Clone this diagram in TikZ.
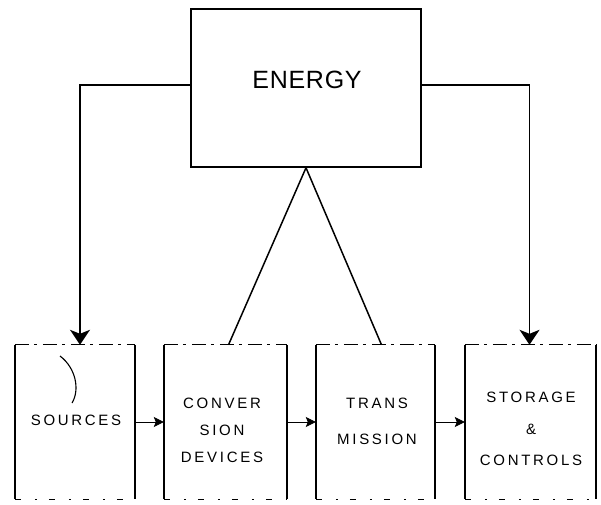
\documentclass[tikz,border=0pt]{standalone}
\usepackage{fontspec}
\setmainfont{Liberation Sans}
\newfontfamily\lblfont[LetterSpace=18]{Liberation Sans}
\newfontfamily\titlefont[LetterSpace=3]{Liberation Sans}
\usetikzlibrary{arrows.meta}
\begin{document}
\begin{tikzpicture}[x=1pt,y=-1pt,
  box/.style={draw=none, minimum height=154pt, inner sep=0pt},
  bigbox/.style={draw, line width=1.5pt, minimum width=230pt, minimum height=158pt, inner sep=0pt},
  side/.style={line width=1.5pt},
  topedge/.style={line width=1pt, dash pattern=on 14pt off 5pt on 3pt off 6pt},
  botedge/.style={line width=0.9pt, dash pattern=on 6pt off 14pt on 2pt off 12pt},
  lbl/.style={align=center, inner sep=0pt},
  conn/.style={line width=1.5pt},
  bigarrow/.style={conn, -{Stealth[length=15pt,width=20pt,inset=4pt]}},
  smallarrow/.style={line width=0.8pt, -{Stealth[length=10pt,width=10pt,inset=2pt]}}]
\useasboundingbox (0,0) rectangle (601,504);

% main box
\node[bigbox] (energy) at (306,88) {};
\node[lbl, font=\titlefont\fontsize{25}{30}\selectfont] (energylbl) at (307,80) {ENERGY};

% lower boxes
\node[box, minimum width=120pt] (b1) at (75,422) {};
\node[box, minimum width=123pt] (b2) at (225.5,422) {};
\node[box, minimum width=119pt] (b3) at (375.5,422) {};
\node[box, minimum width=131pt] (b4) at (530.5,422) {};
\foreach \b in {b1,b2,b3,b4}{
  \draw[side] (\b.north west) -- (\b.south west);
  \draw[side] (\b.north east) -- (\b.south east);
  \draw[topedge] (\b.north west) -- (\b.north east);
  \draw[botedge] (\b.south west) -- (\b.south east);
}

% labels
\node[lbl, font=\lblfont\fontsize{15}{27}\selectfont] (t1) at (76,420) {SOURCES};
\node[lbl, font=\lblfont\fontsize{15}{27}\selectfont] (t2) at (222,430) {CONVER\\SION\\DEVICES};
\node[lbl, font=\lblfont\fontsize{15}{36}\selectfont] (t3) at (377,421) {TRANS\\MISSION};
\node[lbl, font=\lblfont\fontsize{15}{31.5}\selectfont] (t4) at (531,429) {STORAGE\\\&\\CONTROLS};

% connectors
\draw[bigarrow] ([yshift=3pt]energy.west) -| ([xshift=5pt]b1.north);
\draw[bigarrow] ([yshift=3pt]energy.east) -| ([xshift=-1pt]b4.north);
\draw[conn] (energy.south) -- ([xshift=3pt]b2.north);
\draw[conn] (energy.south) -- ([xshift=6pt]b3.north);
\draw[smallarrow] (b1.east) -- (b2.west);
\draw[smallarrow] (b2.east) -- (b3.west);
\draw[smallarrow] (b3.east) -- (b4.west);

% stray mark in the sources box
\draw[line width=1.1pt] (60,356) .. controls (76,368) and (80,390) .. (72,403);
\end{tikzpicture}
\end{document}
